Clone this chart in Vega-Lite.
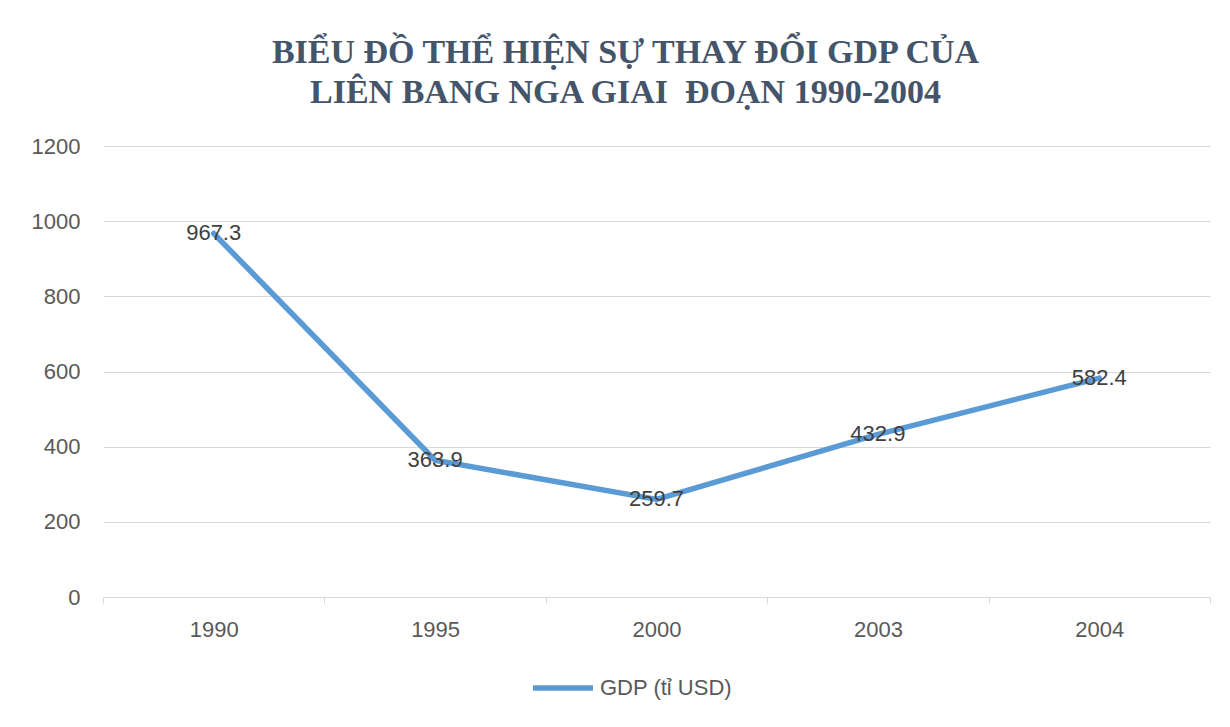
{
  "$schema": "https://vega.github.io/schema/vega-lite/v6.json",
  "autosize": {"type": "none"},
  "padding": {"left": 103, "top": 146, "right": 20, "bottom": 130},
  "width": 1107,
  "height": 451,
  "background": "white",
  "title": {
    "text": ["BIỂU ĐỒ THỂ HIỆN SỰ THAY ĐỔI GDP CỦA", "LIÊN BANG NGA GIAI\u00a0 ĐOẠN 1990-2004"],
    "font": "Liberation Serif",
    "fontSize": 34,
    "fontWeight": "bold",
    "color": "#44546A",
    "lineHeight": 40,
    "anchor": "middle",
    "frame": "group",
    "dx": -31,
    "offset": 25
  },
  "config": {
    "view": {"stroke": null},
    "font": "Liberation Sans",
    "axis": {"labelFont": "Liberation Sans", "labelFontSize": 22, "labelColor": "#595959"}
  },
  "data": {
    "values": [
      {"year": "1990", "gdp": 967.3},
      {"year": "1995", "gdp": 363.9},
      {"year": "2000", "gdp": 259.7},
      {"year": "2003", "gdp": 432.9},
      {"year": "2004", "gdp": 582.4}
    ]
  },
  "encoding": {
    "x": {
      "field": "year",
      "type": "nominal",
      "sort": null,
      "scale": {"type": "band", "paddingInner": 0, "paddingOuter": 0},
      "axis": {
        "title": null,
        "labelAngle": 0,
        "tickBand": "extent",
        "domainColor": "#D9D9D9",
        "tickColor": "#D9D9D9",
        "tickSize": 6,
        "labelPadding": 16,
        "grid": false
      }
    },
    "y": {
      "field": "gdp",
      "type": "quantitative",
      "scale": {"domain": [0, 1200]},
      "axis": {
        "title": null,
        "values": [0, 200, 400, 600, 800, 1000, 1200],
        "format": "d",
        "domain": false,
        "ticks": false,
        "labelPadding": 23,
        "gridColor": "#D9D9D9",
        "gridWidth": 1
      }
    }
  },
  "layer": [
    {
      "mark": {"type": "line", "strokeWidth": 5.5, "strokeCap": "round", "strokeJoin": "round"},
      "encoding": {
        "color": {
          "datum": "GDP (tỉ USD)",
          "scale": {"range": ["#5B9BD5"]},
          "legend": {
            "title": null,
            "orient": "none",
            "legendX": 427,
            "legendY": 509,
            "symbolType": "stroke",
            "symbolSize": 3600,
            "symbolStrokeWidth": 5.5,
            "labelFont": "Liberation Sans",
            "labelFontSize": 22,
            "labelColor": "#595959",
            "labelOffset": 4
          }
        }
      }
    },
    {
      "mark": {"type": "text", "font": "Liberation Sans", "fontSize": 22, "color": "#404040", "baseline": "middle", "align": "center"},
      "encoding": {
        "text": {"field": "gdp", "type": "quantitative", "format": ".1f"}
      }
    }
  ]
}
